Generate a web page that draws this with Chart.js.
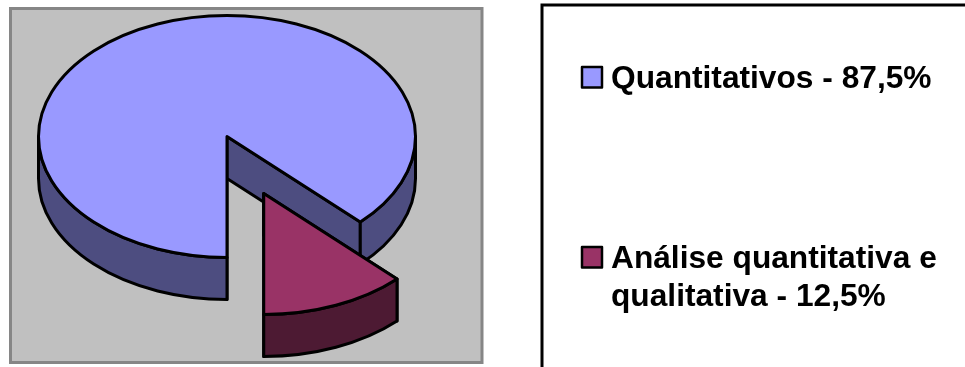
<!DOCTYPE html>
<html>
<head>
<meta charset="utf-8">
<title>Pizza 3D</title>
<style>
  html, body { margin: 0; padding: 0; background: #fff; overflow: hidden; }
  #wrap { width: 965px; height: 367px; position: relative; }
</style>
<script src="https://cdn.jsdelivr.net/npm/chart.js@4/dist/chart.umd.min.js"></script>
</head>
<body>
<div id="wrap"><canvas id="grafico" width="965" height="367"></canvas></div>
<script>
const categorias = ['Quantitativos', 'Análise quantitativa e qualitativa'];
const valores = [87.5, 12.5];
const linhasLegenda = [['Quantitativos - 87,5%'], ['Análise quantitativa e', 'qualitativa - 12,5%']];
const coresTopo = ['#9999FF', '#993366'];
const coresLado = ['#4D4D80', '#4D1A33'];
const deslocamento = [0, 96];

const INCLINACAO = 0.642; // achatamento vertical do disco
const PROFUNDIDADE = 42;

function pontoElipse(cx, cy, r, ang) {
  return [cx + Math.cos(ang) * r, cy + Math.sin(ang) * r * INCLINACAO];
}

// centro da fatia ja com o deslocamento (explode) aplicado pelo Chart.js
function geometria(arc) {
  const { x, y, startAngle, endAngle, outerRadius } = arc;
  const meio = (startAngle + endAngle) / 2;
  const off = arc.options.offset || 0;
  return {
    cx: x + Math.cos(meio) * off,
    cy: y + Math.sin(meio) * off * INCLINACAO,
    r: outerRadius, ini: startAngle, fim: endAngle
  };
}

function pintar(ctx, fill) {
  ctx.fillStyle = fill;
  ctx.fill();
  ctx.strokeStyle = '#000';
  ctx.lineWidth = 3;
  ctx.lineJoin = 'round';
  ctx.stroke();
}

function faceRadial(ctx, g, ang, cor) {
  const [px, py] = pontoElipse(g.cx, g.cy, g.r, ang);
  ctx.beginPath();
  ctx.moveTo(g.cx, g.cy);
  ctx.lineTo(px, py);
  ctx.lineTo(px, py + PROFUNDIDADE);
  ctx.lineTo(g.cx, g.cy + PROFUNDIDADE);
  ctx.closePath();
  pintar(ctx, cor);
}

function paredeExterna(ctx, g, a0, a1, cor) {
  const ry = g.r * INCLINACAO;
  ctx.beginPath();
  ctx.ellipse(g.cx, g.cy, g.r, ry, 0, a0, a1);
  ctx.ellipse(g.cx, g.cy + PROFUNDIDADE, g.r, ry, 0, a1, a0, true);
  ctx.closePath();
  pintar(ctx, cor);
}

// so a metade da frente da borda aparece (angulos entre 0 e PI, e seus giros)
function trechosFrente(ini, fim) {
  const trechos = [];
  for (let k = -1; k <= 2; k++) {
    const a = Math.max(ini, k * 2 * Math.PI);
    const b = Math.min(fim, k * 2 * Math.PI + Math.PI);
    if (b > a) trechos.push([a, b]);
  }
  return trechos;
}

const pizza3d = {
  id: 'pizza3d',
  beforeDraw(chart) {
    const ctx = chart.ctx;
    ctx.save();
    ctx.fillStyle = '#fff';
    ctx.fillRect(0, 0, chart.width, chart.height);
    // area do grafico
    ctx.fillStyle = '#C0C0C0';
    ctx.strokeStyle = '#868686';
    ctx.lineWidth = 3;
    ctx.fillRect(10.5, 8.5, 471.5, 354);
    ctx.strokeRect(10.5, 8.5, 471.5, 354);
    // caixa da legenda, cortada pelas bordas da imagem
    ctx.strokeStyle = '#000';
    ctx.lineWidth = 3;
    ctx.beginPath();
    ctx.moveTo(542, 375);
    ctx.lineTo(542, 5);
    ctx.lineTo(975, 5);
    ctx.stroke();
    ctx.restore();
  },
  beforeDatasetDraw(chart) {
    const ctx = chart.ctx;
    const arcos = chart.getDatasetMeta(0).data;
    ctx.save();
    arcos.forEach((arc, i) => {
      const g = geometria(arc);
      faceRadial(ctx, g, g.ini, coresLado[i]);
      faceRadial(ctx, g, g.fim, coresLado[i]);
      trechosFrente(g.ini, g.fim).forEach(([a, b]) => paredeExterna(ctx, g, a, b, coresLado[i]));
      ctx.beginPath();
      ctx.moveTo(g.cx, g.cy);
      ctx.ellipse(g.cx, g.cy, g.r, g.r * INCLINACAO, 0, g.ini, g.fim);
      ctx.closePath();
      pintar(ctx, arc.options.backgroundColor);
    });
    ctx.restore();
    return false; // as fatias planas do Chart.js nao sao desenhadas
  },
  afterDraw(chart) {
    const ctx = chart.ctx;
    const caixaY = [67, 247];
    const bases = [[88], [268, 306]];
    ctx.save();
    ctx.textBaseline = 'alphabetic';
    ctx.font = 'bold 31.7px "Liberation Sans", Arial, sans-serif';
    linhasLegenda.forEach((linhas, i) => {
      ctx.fillStyle = coresTopo[i];
      ctx.strokeStyle = '#000';
      ctx.lineWidth = 2.5;
      ctx.lineJoin = 'round';
      ctx.fillRect(582, caixaY[i], 20, 20.5);
      ctx.strokeRect(582, caixaY[i], 20, 20.5);
      ctx.fillStyle = '#000';
      linhas.forEach((t, j) => ctx.fillText(t, 611, bases[i][j]));
    });
    ctx.restore();
  }
};

new Chart(document.getElementById('grafico'), {
  type: 'pie',
  data: {
    labels: categorias,
    datasets: [{
      data: valores,
      backgroundColor: coresTopo,
      offset: deslocamento,
      borderWidth: 0,
      radius: 188.5
    }]
  },
  options: {
    responsive: false,
    animation: false,
    rotation: 180,
    layout: { padding: { left: 0, top: 0, right: 511, bottom: 94 } },
    plugins: { legend: { display: false }, tooltip: { enabled: false } }
  },
  plugins: [pizza3d]
});
</script>
</body>
</html>
